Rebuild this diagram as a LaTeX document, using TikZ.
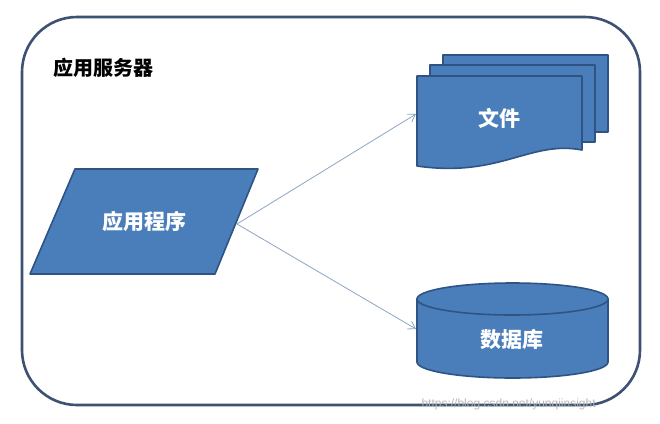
\documentclass[tikz,border=0pt]{standalone}
\usepackage{fontspec}
\setmainfont{Liberation Sans}
\newfontfamily\cjk{Noto Sans CJK SC}
\usetikzlibrary{arrows.meta,shapes.geometric}
\definecolor{shapefill}{HTML}{4A7EBB}
\definecolor{shapeline}{HTML}{2F5483}
\definecolor{frameline}{HTML}{3D5273}
\definecolor{arrowc}{HTML}{8FA5C2}
\tikzset{
  shp/.style={fill=shapefill,draw=shapeline,line width=1.6pt,line join=round},
  lbl/.style={text=white,font=\cjk\fontsize{21}{23}\selectfont\bfseries},
  conn/.style={draw=arrowc,line width=0.8pt,-{Straight Barb[length=7pt,width=9pt]}}
}
\begin{document}
\begin{tikzpicture}[x=1pt,y=-1pt]
\useasboundingbox (0,0) rectangle (660,423);
\fill[white] (0,0) rectangle (660,423);
% outer frame
\draw[frameline,line width=2.6pt,rounded corners=55pt] (22,17) rectangle (640,405);
\node[anchor=west,font=\cjk\fontsize{20}{22}\selectfont\bfseries] (title) at (50,68) {应用服务器};
% parallelogram
\draw[shp] (75,169) -- (258,169) -- (215,274) -- (30,274) -- cycle;
\node[lbl] (app) at (144,221) {应用程序};
\coordinate (src) at (237,224);
% document stack
\draw[shp] (443,55) rectangle (608,132);
\draw[shp] (430,65) rectangle (595,142);
\draw[shp] (417,76) -- (582,76) -- (582,150) .. controls (530,140) and (500,178) .. (417,166) -- cycle;
\node[lbl] (file) at (499,118) {文件};
\coordinate (fileW) at (416,114);
% cylinder
\draw[shp] (417,299) -- (417,362) arc[start angle=180,end angle=0,x radius=95.5,y radius=16] -- (608,299) -- cycle;
\draw[shp] (512.5,299) ellipse[x radius=95.5,y radius=16];
\node[lbl] (db) at (512,340) {数据库};
\coordinate (dbW) at (416,329);
% connectors
\draw[conn] (src) -- (fileW);
\draw[conn] (src) -- (dbW);
% watermark
\node[anchor=west,text=black!30,font=\fontsize{12}{14}\selectfont,opacity=0.9] (wm) at (418,404) {https://blog.csdn.net/yunqiinsight};
\end{tikzpicture}
\end{document}
